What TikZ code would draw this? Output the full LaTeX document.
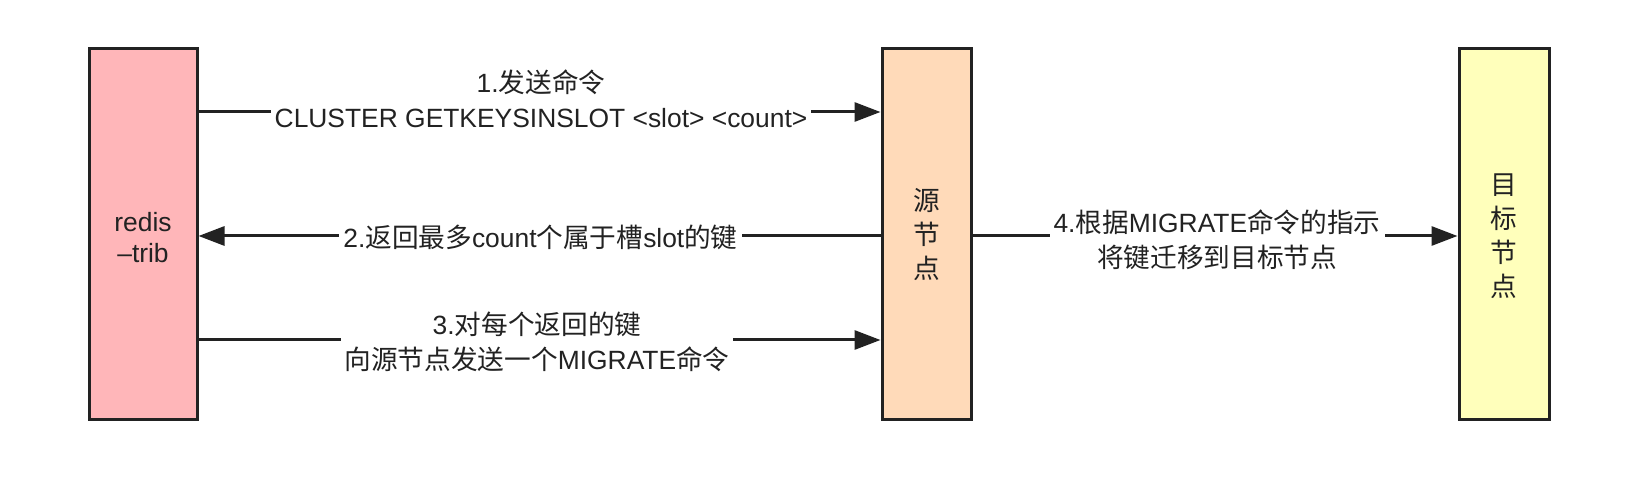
\documentclass[tikz,border=0pt]{standalone}
\usepackage{fontspec}
\setmainfont{Liberation Sans}
\newfontfamily\cjkfont[Scale=1.01]{Noto Sans CJK SC}
\newcommand{\zhtxt}[1]{{\cjkfont #1}}
\usetikzlibrary{arrows.meta}
\definecolor{pinkfill}{HTML}{FFB6B9}
\definecolor{peachfill}{HTML}{FFDAB9}
\definecolor{yellowfill}{HTML}{FFFFBB}
\definecolor{edgecol}{HTML}{222222}
\begin{document}
\begin{tikzpicture}[x=1pt,y=-1pt,
  box/.style={draw=edgecol, line width=3pt, minimum width=#1, minimum height=371pt,
    inner sep=0pt, align=center, text=edgecol},
  boxtext/.style={align=center, inner sep=0pt, text=edgecol, font=\fontsize{26.4}{34}\selectfont},
  arr/.style={draw=edgecol, line width=3pt, -{Triangle[length=26pt,width=19pt]}},
  lbl/.style={fill=white, inner xsep=4pt, inner ysep=1pt, align=center,
    font=\fontsize{26.4}{34.5}\selectfont, text=edgecol}]
\useasboundingbox (0,0) rectangle (1644,502);
\fill[white] (0,0) rectangle (1644,502);

\node[box=108pt, fill=pinkfill] (redis) at (143,234.5) {};
\node[box=89pt, fill=peachfill] (src) at (926.5,234.5) {};
\node[box=90pt, fill=yellowfill] (tgt) at (1504,234.5) {};

\node[boxtext, font=\fontsize{26.4}{31.5}\selectfont] (redistxt) at ([yshift=-3pt]redis.center) {redis\\–trib};
\node[boxtext] (srctxt) at (src.center) {\zhtxt{源}\\\zhtxt{节}\\\zhtxt{点}};
\node[boxtext] (tgttxt) at ([yshift=-2pt]tgt.center) {\zhtxt{目}\\\zhtxt{标}\\\zhtxt{节}\\\zhtxt{点}};

\coordinate (y1) at (0,112);
\coordinate (y2) at (0,236);
\coordinate (y3) at (0,340);

\draw[arr] (redis.east |- y1) -- (src.west |- y1);
\draw[arr] (src.west |- y2) -- (redis.east |- y2);
\draw[arr] (redis.east |- y3) -- (src.west |- y3);
\draw[arr] (src.east |- y2) -- (tgt.west |- y2);

\node[lbl] (l1) at (541,99) {1.\zhtxt{发送命令}\\CLUSTER GETKEYSINSLOT <slot> <count>};
\node[lbl] (l2) at (540.5,237) {2.\zhtxt{返回最多}count\zhtxt{个属于槽}slot\zhtxt{的键}};
\node[lbl] (l3) at (537,342) {3.\zhtxt{对每个返回的键}\\\zhtxt{向源节点发送一个}MIGRATE\zhtxt{命令}};
\node[lbl] (l4) at (1217,240) {4.\zhtxt{根据}MIGRATE\zhtxt{命令的指示}\\\zhtxt{将键迁移到目标节点}};
\end{tikzpicture}
\end{document}
